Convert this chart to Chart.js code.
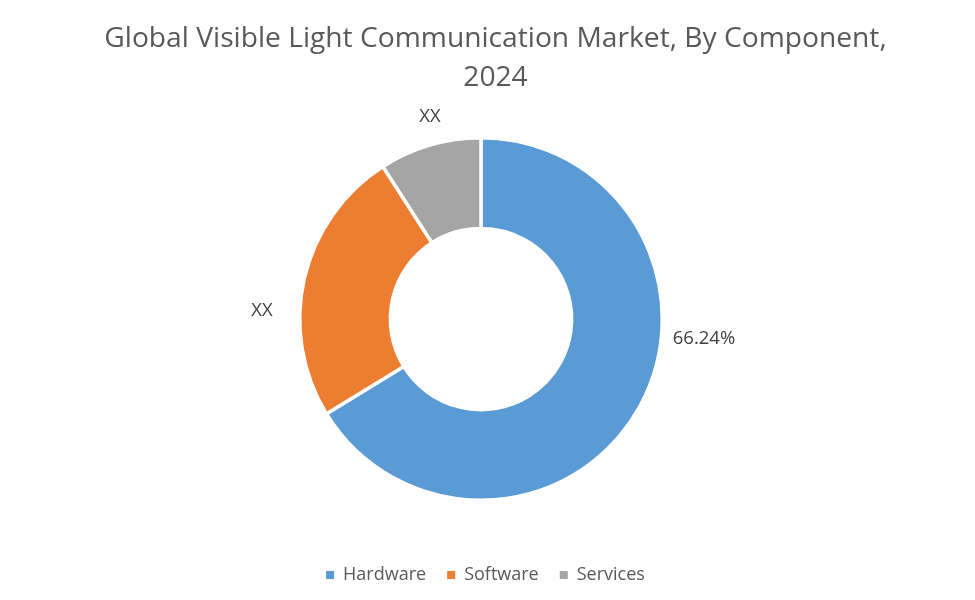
<!DOCTYPE html>
<html><head><meta charset="utf-8">
<style>html,body{margin:0;padding:0;background:#fff}canvas{display:block}</style>
<script src="https://cdn.jsdelivr.net/npm/chart.js@4"></script></head>
<body><canvas id="c" width="975" height="600" style="width:975px;height:600px"></canvas>
<script>
const categories = ["Hardware", "Software", "Services"];
const shareValues = [66.24, 24.66, 9.10];
const sliceLabels = ["66.24%", "XX", "XX"];
const sliceColors = ["#5B9BD5", "#ED7D31", "#A5A5A5"];
const titleLines = ["Global Visible Light Communication Market, By Component,", "2024"];
const labelOffsets = [[223, 20], [-219, -8], [-51, -202]];
const FONT = "'Open Sans', sans-serif";

const placementPlugin = {
  id: "placement",
  afterLayout(chart) {
    chart.chartArea.left = 298; chart.chartArea.right = 664;
    chart.chartArea.top = 136; chart.chartArea.bottom = 502;
    chart.chartArea.width = 366; chart.chartArea.height = 366;
    chart.titleBlock.left += 8; chart.titleBlock.right += 8;
    chart.legend.left -= 2; chart.legend.right -= 2;
    chart.legend.top -= 6; chart.legend.bottom -= 6;
  }
};

const sliceLabelPlugin = {
  id: "sliceLabels",
  afterDatasetsDraw(chart) {
    const arc = chart.getDatasetMeta(0).data[0];
    const ctx = chart.ctx;
    ctx.save();
    ctx.font = "18.5px " + FONT;
    ctx.fillStyle = "#404040";
    ctx.textAlign = "center";
    ctx.textBaseline = "middle";
    sliceLabels.forEach((t, i) => ctx.fillText(t, arc.x + labelOffsets[i][0], arc.y + labelOffsets[i][1]));
    ctx.restore();
  }
};

const baseLabels = Chart.overrides.doughnut.plugins.legend.labels.generateLabels;

new Chart(document.getElementById("c"), {
  type: "doughnut",
  data: { labels: categories, datasets: [{ data: shareValues, backgroundColor: sliceColors, borderColor: "#fff", borderWidth: 3.5, hoverOffset: 0 }] },
  options: {
    responsive: false, animation: false, devicePixelRatio: 1, cutout: "50%",
    plugins: {
      tooltip: { enabled: false },
      title: { display: true, text: titleLines, color: "#595959", font: { family: FONT, size: 28.2, weight: "normal", lineHeight: 1.4 }, padding: { top: 19, bottom: 20 } },
      legend: { position: "bottom", labels: {
        color: "#595959", font: { family: FONT, size: 18 }, boxWidth: 8, boxHeight: 8, padding: 21,
        generateLabels: (chart) => baseLabels(chart).map(item => ({ ...item, lineWidth: 0 }))
      } }
    }
  },
  plugins: [placementPlugin, sliceLabelPlugin]
});
</script></body></html>
